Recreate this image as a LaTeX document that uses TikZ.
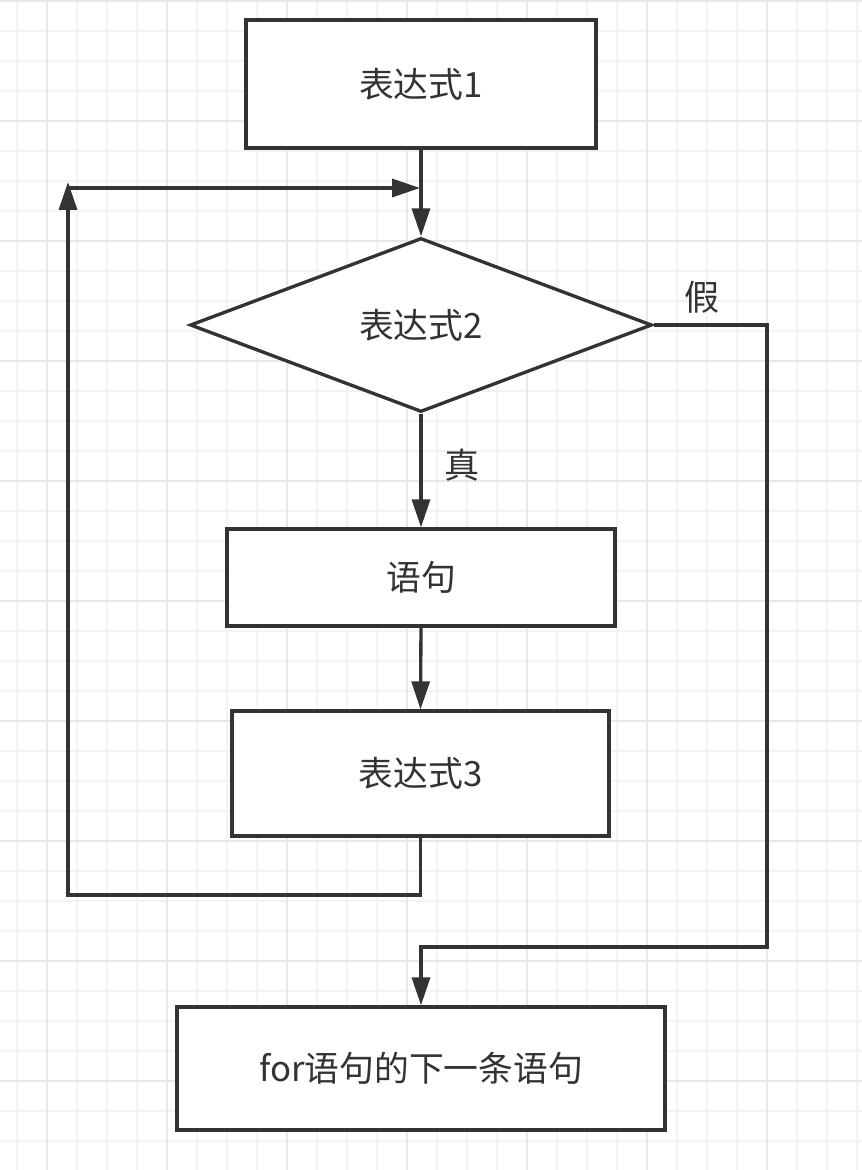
\documentclass[tikz,border=0pt]{standalone}
\usepackage{fontspec}
\setmainfont{Noto Sans CJK SC}
\usetikzlibrary{shapes.geometric,arrows.meta}
\definecolor{ink}{HTML}{333333}
\definecolor{gridminor}{HTML}{F3F3F3}
\definecolor{gridmajor}{HTML}{E8E8E8}
\tikzset{
  stmt/.style={draw=ink,line width=1.9pt,fill=white,inner sep=0pt,font=\fontsize{19.8pt}{23pt}\selectfont,text=ink},
  cond/.style={stmt,diamond,minimum width=9.24cm,minimum height=3.48cm},
  lbl/.style={font=\fontsize{20pt}{23pt}\selectfont,text=ink,inner sep=0pt},
  arr/.style={draw=ink,line width=1.9pt,-{Triangle[length=0.56cm,width=0.36cm]}}
}
\begin{document}
\begin{tikzpicture}[x=0.02cm,y=-0.02cm]
  \fill[white] (0,0) rectangle (862,1170);
  \useasboundingbox (0,0) rectangle (862,1170);
  \foreach \x in {17,47,...,857} \draw[gridminor,line width=0.6pt] (\x,0) -- (\x,1170);
  \foreach \y in {1,31,...,1170} \draw[gridminor,line width=0.6pt] (0,\y) -- (862,\y);
  \foreach \x in {47,167,...,857} \draw[gridmajor,line width=0.9pt] (\x,0) -- (\x,1170);
  \foreach \y in {1,121,...,1170} \draw[gridmajor,line width=0.9pt] (0,\y) -- (862,\y);

  \node[stmt,minimum width=7cm,minimum height=2.56cm] (expr1) at (421,84) {表达式1};
  \node[cond] (expr2) at (421,325) {表达式2};
  \node[stmt,minimum width=7.76cm,minimum height=1.94cm] (body) at (421,577.5) {语句};
  \node[stmt,minimum width=7.54cm,minimum height=2.5cm] (expr3) at (420.5,773.5) {表达式3};
  \node[stmt,minimum width=9.76cm,minimum height=2.46cm] (next) at (421,1068.5) {for语句的下一条语句};
  \node[lbl] (no) at (702,297) {假};
  \node[lbl] (yes) at (462,465) {真};

  \coordinate (bl) at (68,895);
  \coordinate (up) at (68,182);
  \coordinate (tl) at (68,188);
  \coordinate (tr) at (420,188);
  \coordinate (fr) at (767,947);

  \draw[arr] (expr1.south) -- (expr2.north);
  \draw[arr] (expr2.south) -- (body.north);
  \draw[arr] (body.south) -- (expr3.north);
  \draw[arr] (expr3.south) |- (bl) -- (up);
  \draw[arr] (tl) -- (tr);
  \draw[arr] (expr2.east) -| (fr) -| (next.north);
\end{tikzpicture}
\end{document}
